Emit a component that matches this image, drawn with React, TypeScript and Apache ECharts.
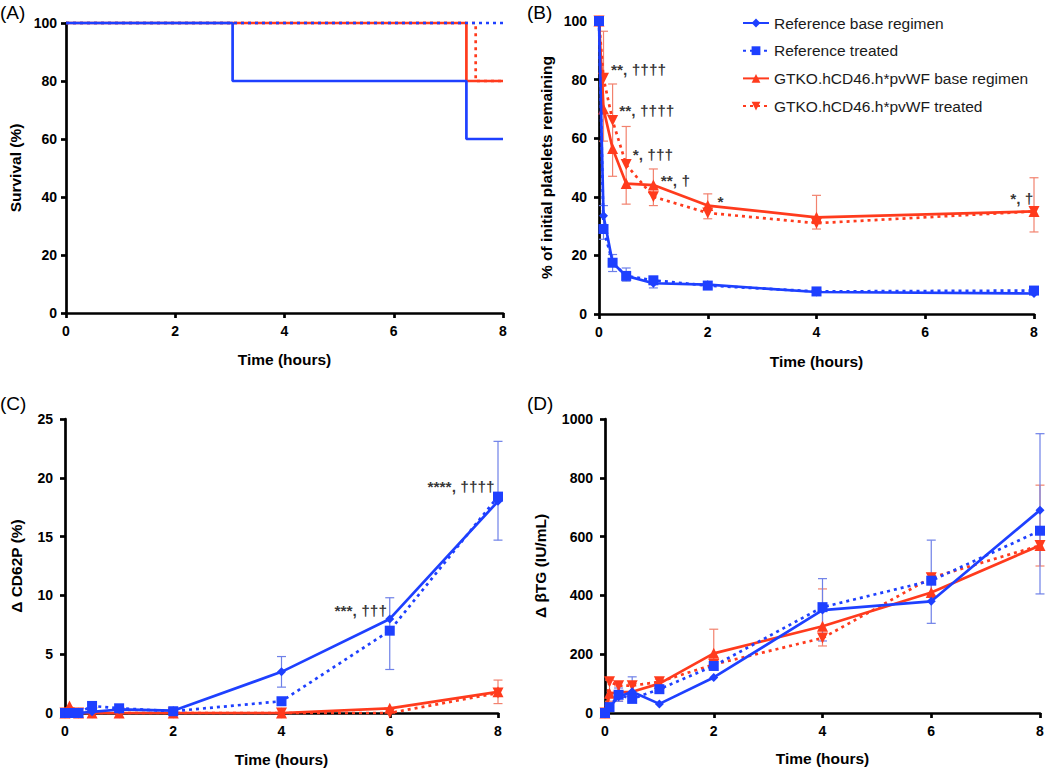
import React, { useEffect, useRef } from "react";
import * as echarts from "echarts";

// ---------- data ----------
const SERIES_NAMES = [
  "Reference base regimen",
  "Reference treated",
  "GTKO.hCD46.h*pvWF base regimen",
  "GTKO.hCD46.h*pvWF treated",
];

// (A) survival, step curves
const A_REF_BASE_T = [0, 3.05, 7.33, 8];
const A_REF_BASE_V = [100, 80, 60, 60];
const A_REF_TREATED_T = [0, 8];
const A_REF_TREATED_V = [100, 100];
const A_GTKO_BASE_T = [0, 7.33, 8];
const A_GTKO_BASE_V = [100, 80, 80];
const A_GTKO_TREATED_T = [0, 7.5, 8];
const A_GTKO_TREATED_V = [100, 80, 80];

// (B) platelets
const TIMES_B = [0, 0.083, 0.25, 0.5, 1, 2, 4, 8];
const B_REF_BASE = [100, 33.5, 17.5, 13, 10.5, 10, 7.5, 7];
const B_REF_TREATED = [100, 29, 17.5, 13, 11.5, 9.7, 7.7, 8];
const B_GTKO_BASE = [100, 70, 56.5, 44.5, 44, 37, 33, 35];
const B_GTKO_TREATED = [100, 80.5, 66, 51, 40, 34.5, 31, 35];
const B_RED_ERR_T = [0.083, 0.25, 0.5, 1, 2, 4, 8];
const B_RED_ERR_LO = [59, 47, 37.5, 37, 32.5, 29, 28];
const B_RED_ERR_HI = [96.5, 78.5, 64, 49.5, 41, 40.5, 46.5];
const B_BLUE_ERR_T = [0.083, 0.25, 0.5, 1, 2];
const B_BLUE_ERR_LO = [25.5, 14.5, 11.2, 8.9, 8.8];
const B_BLUE_ERR_HI = [37, 20.3, 15.7, 12.3, 11];
const B_NOTES = ["**, ††††", "**, ††††", "*, †††", "**, †", "*", "*, †"];
const B_NOTE_X = [0.22, 0.373, 0.62, 1.135, 2.18, 7.99];
const B_NOTE_Y = [83.5, 69.6, 54.6, 45.7, 38.4, 39.4];
const B_NOTE_ALIGN = ["right", "right", "right", "right", "right", "left"];

// (C) CD62P
const TIMES_CD = [0, 0.083, 0.25, 0.5, 1, 2, 4, 6, 8];
const C_REF_BASE = [0, 0, 0, 0.1, 0.3, 0.2, 3.5, 8, 18];
const C_REF_TREATED = [0, 0, 0, 0.6, 0.4, 0.15, 1, 7, 18.4];
const C_GTKO_BASE = [0, 0.6, 0, 0, 0, 0, 0, 0.4, 1.8];
const C_GTKO_TREATED = [0, 0, 0, 0, 0, 0, 0, 0, 1.7];
const C_BLUE_ERR_T = [4, 6, 8];
const C_BLUE_ERR_LO = [2.2, 3.7, 14.7];
const C_BLUE_ERR_HI = [4.8, 9.8, 23.1];
const C_RED_ERR_T = [8];
const C_RED_ERR_LO = [0.8];
const C_RED_ERR_HI = [2.8];
const C_NOTES = ["***, †††", "****, ††††"];
const C_NOTE_X = [5.95, 7.94];
const C_NOTE_Y = [8.74, 19.23];

// (D) beta-TG
const D_REF_BASE = [0, 21, 55, 72, 31, 121, 350, 380, 690];
const D_REF_TREATED = [0, 20, 62, 48, 81, 160, 360, 450, 620];
const D_GTKO_BASE = [0, 67, 70, 72, 100, 203, 295, 410, 570];
const D_GTKO_TREATED = [0, 106, 93, 93, 106, 165, 255, 460, 570];
const D_RED_ERR_T = [0.083, 0.25, 0.5, 1, 2, 4, 6, 8];
const D_RED_ERR_LO = [40, 40, 60, 90, 150, 228, 400, 500];
const D_RED_ERR_HI = [112, 92, 100, 115, 285, 422, 475, 775];
const D_BLUE_ERR_T = [0.25, 0.5, 4, 6, 8];
const D_BLUE_ERR_LO = [40, 40, 245, 305, 405];
const D_BLUE_ERR_HI = [85, 123, 457, 588, 950];

// ---------- styles ----------
const BLUE = "#1e40ff";
const RED = "#ff3b1d";
const BLUE_ERR = "#6e80e8";
const RED_ERR = "#f2826e";
const FONT = "'Liberation Sans', Arial, Helvetica, sans-serif";
const DOT: number[] = [3, 4];

const pairs = (t: number[], v: number[]) => t.map((x, i) => [x, v[i]]);

function lineSeries(
  name: string,
  idx: number,
  t: number[],
  v: number[],
  color: string,
  dotted: boolean,
  symbol: string,
  symbolSize: number,
  rotate = 0,
  z = 3
) {
  return {
    type: "line",
    name,
    xAxisIndex: idx,
    yAxisIndex: idx,
    data: pairs(t, v),
    symbol,
    symbolSize,
    symbolRotate: rotate,
    showSymbol: true,
    clip: false,
    z,
    itemStyle: { color },
    lineStyle: { color, width: 2.7, type: dotted ? DOT : "solid" },
    silent: true,
  };
}

function stepSeries(idx: number, t: number[], v: number[], color: string, dotted: boolean, z: number) {
  return {
    type: "line",
    name: "survival-" + z,
    xAxisIndex: idx,
    yAxisIndex: idx,
    data: pairs(t, v),
    step: "end",
    showSymbol: false,
    symbol: "none",
    clip: false,
    z,
    lineStyle: { color, width: 2.7, type: dotted ? DOT : "solid" },
    silent: true,
  };
}

function errSeries(idx: number, t: number[], lo: number[], hi: number[], color: string) {
  return {
    type: "custom",
    xAxisIndex: idx,
    yAxisIndex: idx,
    data: t.map((x, i) => [x, lo[i], hi[i]]),
    encode: { x: 0, y: [1, 2] },
    clip: false,
    silent: true,
    z: 2,
    renderItem: (_p: any, api: any) => {
      const x = api.value(0);
      const a = api.coord([x, api.value(1)]);
      const b = api.coord([x, api.value(2)]);
      const w = 4.5;
      const st = { stroke: color, lineWidth: 1.2 };
      return {
        type: "group",
        children: [
          { type: "line", shape: { x1: a[0], y1: a[1], x2: b[0], y2: b[1] }, style: st },
          { type: "line", shape: { x1: a[0] - w, y1: a[1], x2: a[0] + w, y2: a[1] }, style: st },
          { type: "line", shape: { x1: b[0] - w, y1: b[1], x2: b[0] + w, y2: b[1] }, style: st },
        ],
      };
    },
  };
}

function noteSeries(idx: number, xs: number[], ys: number[], texts: string[], aligns: string[]) {
  return {
    type: "scatter",
    xAxisIndex: idx,
    yAxisIndex: idx,
    symbolSize: 0,
    clip: false,
    silent: true,
    z: 5,
    data: xs.map((x, i) => ({
      value: [x, ys[i]],
      label: {
        show: true,
        position: aligns[i],
        distance: 0,
        formatter: texts[i],
        color: "#000",
        fontFamily: FONT,
        fontSize: 15.5,
        fontWeight: "bold",
      },
    })),
  };
}

const axisLine = { show: true, lineStyle: { color: "#000", width: 2.7 } };
const axisTick = { show: true, length: 5, lineStyle: { color: "#000", width: 2.7 } };
const tickLabel = { color: "#000", fontFamily: FONT, fontSize: 14, fontWeight: "bold" };
const nameStyle = { color: "#000", fontFamily: FONT, fontSize: 15.5, fontWeight: "bold" };

function xAxis(gridIndex: number, gap: number) {
  return {
    type: "value",
    gridIndex,
    min: 0,
    max: 8,
    interval: 2,
    name: "Time (hours)",
    nameLocation: "middle",
    nameGap: gap,
    nameTextStyle: nameStyle,
    axisLine: { ...axisLine, onZero: false },
    axisTick,
    axisLabel: { ...tickLabel, margin: 11 },
    splitLine: { show: false },
  };
}

function yAxis(gridIndex: number, name: string, max: number, interval: number, gap: number, offset: number) {
  return {
    type: "value",
    gridIndex,
    min: 0,
    max,
    interval,
    name,
    nameLocation: "middle",
    nameGap: gap,
    nameTextStyle: nameStyle,
    offset,
    axisLine,
    axisTick,
    axisLabel: { ...tickLabel, margin: 9, formatter: (v: number) => String(v) },
    splitLine: { show: false },
  };
}

function panelLabel(text: string, x: number, y: number) {
  return {
    type: "text",
    left: x,
    top: y,
    style: { text, fill: "#000", font: `19px ${FONT}` },
  };
}

export default function App() {
  const ref = useRef<HTMLDivElement>(null);
  useEffect(() => {
    if (!ref.current) return;
    const chart = echarts.init(ref.current, null, { renderer: "svg" });
    const [nRB, nRT, nGB, nGT] = SERIES_NAMES;
    const option: any = {
      animation: false,
      backgroundColor: "#fff",
      textStyle: { fontFamily: FONT },
      grid: [
        { left: 66, top: 23, width: 437, height: 290 },
        { left: 599, top: 21, width: 435, height: 293 },
        { left: 65, top: 419, width: 433, height: 294 },
        { left: 605, top: 419, width: 435, height: 294 },
      ],
      xAxis: [xAxis(0, 38), xAxis(1, 39), xAxis(2, 38), xAxis(3, 37)],
      yAxis: [
        yAxis(0, "Survival (%)", 100, 20, 43, 0),
        yAxis(1, "% of initial platelets remaining", 100, 20, 42, 3),
        yAxis(2, "Δ CD62P (%)", 25, 5, 38, 3),
        yAxis(3, "Δ βTG (IU/mL)", 1000, 200, 54, 3),
      ],
      legend: {
        data: SERIES_NAMES,
        orient: "vertical",
        left: 737,
        top: 10,
        itemWidth: 26,
        itemHeight: 11,
        itemGap: 11.7,
        selectedMode: false,
        textStyle: { color: "#1a1a1a", fontFamily: FONT, fontSize: 15.5, lineHeight: 16, padding: [0, 0, 0, 0] },
      },
      graphic: [
        panelLabel("(A)", 0, 3),
        panelLabel("(B)", 527, 3),
        panelLabel("(C)", 0, 394),
        panelLabel("(D)", 527, 394),
      ],
      series: [
        // B
        errSeries(1, B_RED_ERR_T, B_RED_ERR_LO, B_RED_ERR_HI, RED_ERR),
        errSeries(1, B_BLUE_ERR_T, B_BLUE_ERR_LO, B_BLUE_ERR_HI, BLUE_ERR),
        lineSeries(nRB, 1, TIMES_B, B_REF_BASE, BLUE, false, "diamond", 9, 0, 4),
        lineSeries(nRT, 1, TIMES_B, B_REF_TREATED, BLUE, true, "rect", 10, 0, 4),
        lineSeries(nGB, 1, TIMES_B, B_GTKO_BASE, RED, false, "triangle", 11, 0, 3),
        lineSeries(nGT, 1, TIMES_B, B_GTKO_TREATED, RED, true, "triangle", 11, 180, 3),
        noteSeries(1, B_NOTE_X, B_NOTE_Y, B_NOTES, B_NOTE_ALIGN),
        // A
        stepSeries(0, A_GTKO_BASE_T, A_GTKO_BASE_V, RED, false, 3),
        stepSeries(0, A_GTKO_TREATED_T, A_GTKO_TREATED_V, RED, true, 4),
        stepSeries(0, A_REF_TREATED_T, A_REF_TREATED_V, BLUE, true, 5),
        stepSeries(0, A_REF_BASE_T, A_REF_BASE_V, BLUE, false, 6),
        // C
        errSeries(2, C_BLUE_ERR_T, C_BLUE_ERR_LO, C_BLUE_ERR_HI, BLUE_ERR),
        errSeries(2, C_RED_ERR_T, C_RED_ERR_LO, C_RED_ERR_HI, RED_ERR),
        lineSeries(nGB, 2, TIMES_CD, C_GTKO_BASE, RED, false, "triangle", 11, 0, 3),
        lineSeries(nGT, 2, TIMES_CD, C_GTKO_TREATED, RED, true, "triangle", 11, 180, 3),
        lineSeries(nRB, 2, TIMES_CD, C_REF_BASE, BLUE, false, "diamond", 9, 0, 4),
        lineSeries(nRT, 2, TIMES_CD, C_REF_TREATED, BLUE, true, "rect", 10, 0, 4),
        noteSeries(2, C_NOTE_X, C_NOTE_Y, C_NOTES, ["left", "left"]),
        // D
        errSeries(3, D_RED_ERR_T, D_RED_ERR_LO, D_RED_ERR_HI, RED_ERR),
        errSeries(3, D_BLUE_ERR_T, D_BLUE_ERR_LO, D_BLUE_ERR_HI, BLUE_ERR),
        lineSeries(nGB, 3, TIMES_CD, D_GTKO_BASE, RED, false, "triangle", 11, 0, 3),
        lineSeries(nGT, 3, TIMES_CD, D_GTKO_TREATED, RED, true, "triangle", 11, 180, 3),
        lineSeries(nRB, 3, TIMES_CD, D_REF_BASE, BLUE, false, "diamond", 9, 0, 4),
        lineSeries(nRT, 3, TIMES_CD, D_REF_TREATED, BLUE, true, "rect", 10, 0, 4),
      ],
    };
    chart.setOption(option);
    return () => chart.dispose();
  }, []);
  return (
    <div
      ref={ref}
      style={{ position: "absolute", left: 0, top: 0, width: 1050, height: 779, background: "#fff" }}
    />
  );
}
